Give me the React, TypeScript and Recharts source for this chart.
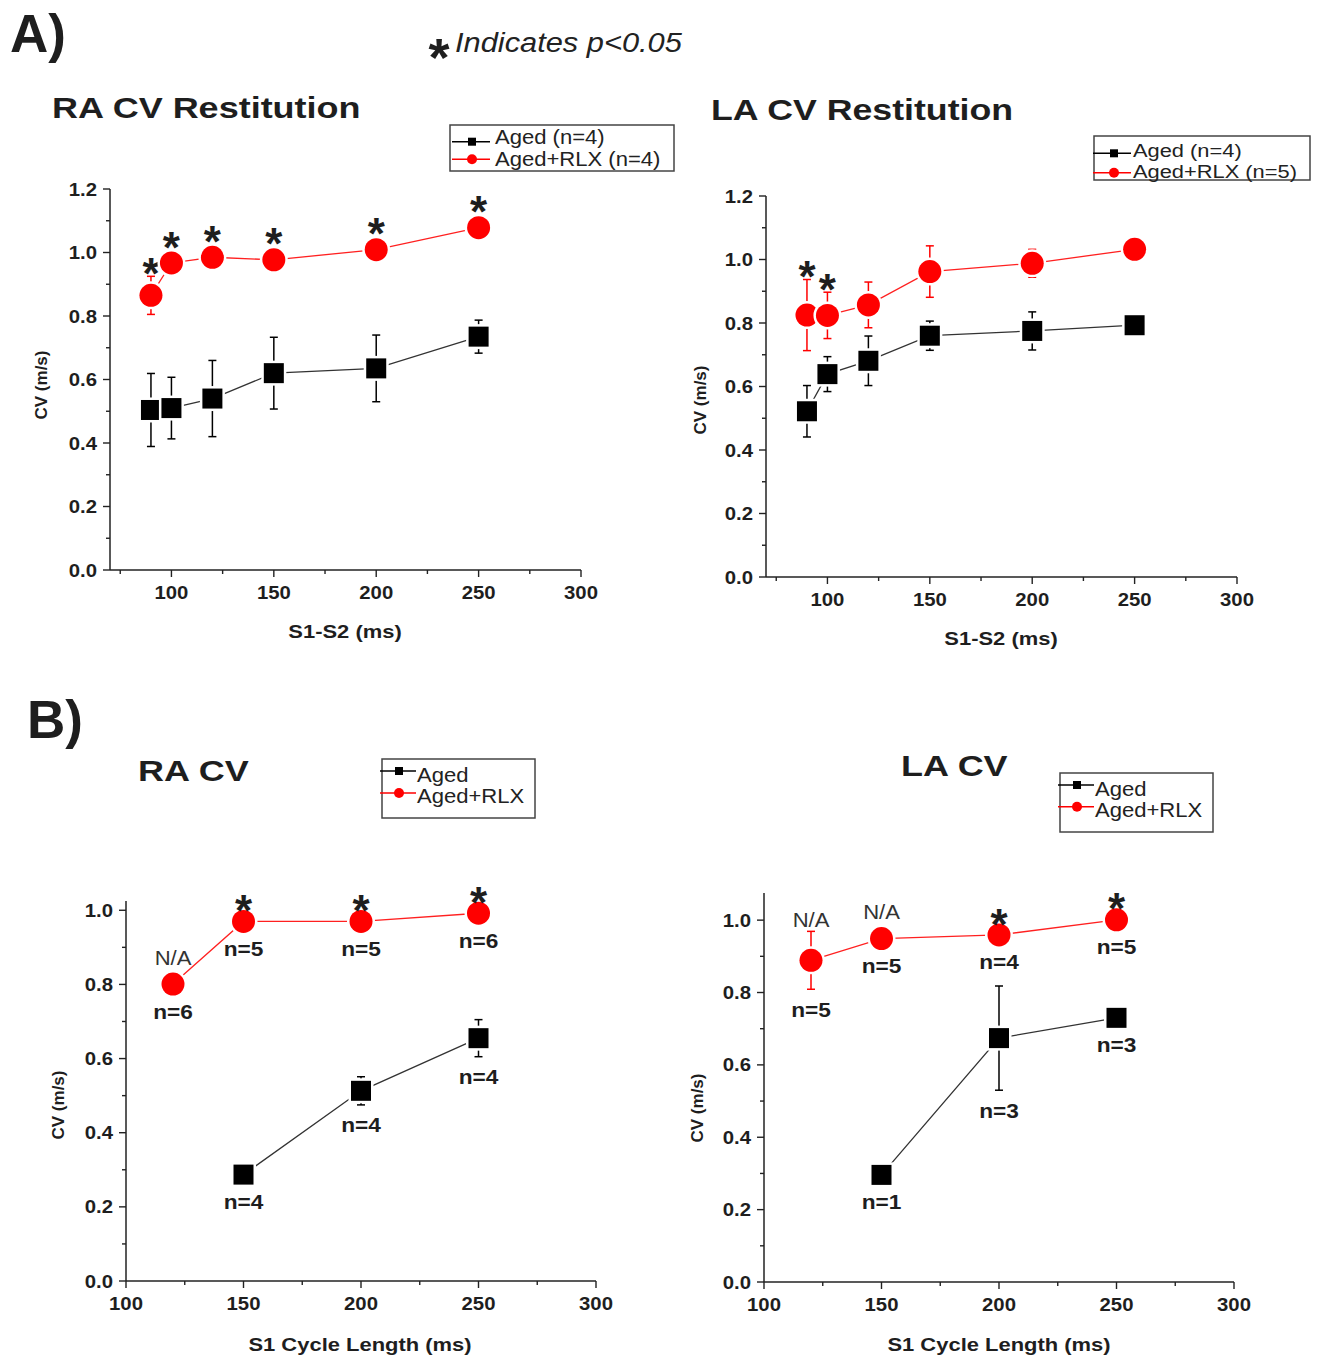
import React from 'react';
import { LineChart, Line, XAxis, YAxis, ErrorBar } from 'recharts';

const FONT = '"Liberation Sans", Arial, Helvetica, sans-serif';

// ---------- A) CV restitution (S1-S2 interval, ms) ----------
const raRestS1S2 = [90, 100, 120, 150, 200, 250];
const raRestAgedCV = [0.504, 0.51, 0.54, 0.62, 0.635, 0.735];
const raRestAgedSEM = [0.115, 0.097, 0.12, 0.113, 0.105, 0.052];
const raRestRlxCV = [0.865, 0.967, 0.985, 0.977, 1.009, 1.078];
const raRestRlxSEM = [0.06, 0.012, 0.012, 0.012, 0.012, 0.012];
const raRestSig = [true, true, true, true, true, true];

const laRestS1S2 = [90, 100, 120, 150, 200, 250];
const laRestAgedCV = [0.522, 0.639, 0.681, 0.76, 0.775, 0.793];
const laRestAgedSEM = [0.081, 0.055, 0.078, 0.046, 0.06, 0.03];
const laRestRlxCV = [0.825, 0.824, 0.857, 0.962, 0.988, 1.032];
const laRestRlxSEM = [0.112, 0.073, 0.072, 0.081, 0.044, 0.012];
const laRestSig = [true, true, false, false, false, false];

// ---------- B) CV vs S1 cycle length (ms) ----------
const raAgedS1 = [150, 200, 250];
const raAgedCV = [0.287, 0.513, 0.655];
const raAgedSEM = [0.012, 0.038, 0.05];
const raAgedN = [4, 4, 4];
const raRlxS1 = [120, 150, 200, 250];
const raRlxCV = [0.801, 0.97, 0.97, 0.992];
const raRlxSEM = [0.012, 0.012, 0.012, 0.012];
const raRlxN = [6, 5, 5, 6];
const raRlxNA = [true, false, false, false];
const raRlxSig = [false, true, true, true];

const laAgedS1 = [150, 200, 250];
const laAgedCV = [0.296, 0.674, 0.73];
const laAgedSEM = [0, 0.144, 0.015];
const laAgedN = [1, 3, 3];
const laRlxS1 = [120, 150, 200, 250];
const laRlxCV = [0.889, 0.949, 0.959, 1.001];
const laRlxSEM = [0.08, 0.012, 0.012, 0.012];
const laRlxN = [5, 5, 4, 5];
const laRlxNA = [true, true, false, false];
const laRlxSig = [false, false, true, true];

// ---------- ticks ----------
const restXTicks = [75, 100, 125, 150, 175, 200, 225, 250, 275, 300];
const cycleXTicks = [100, 125, 150, 175, 200, 225, 250, 275, 300];
const restYTicks = [0, 0.1, 0.2, 0.3, 0.4, 0.5, 0.6, 0.7, 0.8, 0.9, 1.0, 1.1, 1.2];
const cycleYTicks = [0, 0.1, 0.2, 0.3, 0.4, 0.5, 0.6, 0.7, 0.8, 0.9, 1.0];

const RED = '#ff0000';
const BLACK = '#000000';
const INK = '#1e1e1e';

type Row = { x: number; cv: number; sem: number; n?: number; sig?: boolean; na?: boolean };

function rows(xs: number[], ys: number[], es: number[], ns?: number[], sig?: boolean[], na?: boolean[]): Row[] {
  return xs.map((x, i) => ({ x, cv: ys[i], sem: es[i], n: ns ? ns[i] : undefined, sig: sig ? sig[i] : false, na: na ? na[i] : false }));
}

function ST(props: any) {
  const { x, y, fs, sx = 1, anchor = 'start', weight = 'bold', italic = false, fill = INK, children } = props;
  return (
    <text
      transform={`translate(${x} ${y}) scale(${sx} 1)`}
      fontSize={fs}
      fontWeight={weight}
      fontStyle={italic ? 'italic' : 'normal'}
      textAnchor={anchor}
      fill={fill}
      fontFamily={FONT}
    >
      {children}
    </text>
  );
}

function Star({ x, cy, fs = 44 }: any) {
  return <ST x={x} y={cy + fs * 0.56} fs={fs} anchor="middle">*</ST>;
}

function XTick(props: any) {
  const { x, y, payload } = props;
  const v = payload.value;
  const major = Math.abs(v % 50) < 1e-6;
  return (
    <g>
      <line x1={x} x2={x} y1={y} y2={y + (major ? 7 : 4)} stroke="#222" strokeWidth={1.4} />
      {major && (
        <ST x={x} y={y + 29} fs={18} sx={1.13} anchor="middle">
          {String(v)}
        </ST>
      )}
    </g>
  );
}

function YTick(props: any) {
  const { x, y, payload } = props;
  const v = payload.value;
  const major = Math.round(v * 10) % 2 === 0;
  return (
    <g>
      <line x1={x - (major ? 7 : 4)} x2={x} y1={y} y2={y} stroke="#222" strokeWidth={1.4} />
      {major && (
        <ST x={x - 13} y={y + 6.5} fs={18} sx={1.13} anchor="end">
          {v.toFixed(1)}
        </ST>
      )}
    </g>
  );
}

function Marker(props: any) {
  const { cx, cy, payload, kind, ppu, mode } = props;
  if (cx == null || cy == null) return <g />;
  const errPx = (payload.sem || 0) * ppu;
  const shape =
    kind === 'square' ? (
      <rect x={cx - 10} y={cy - 10} width={20} height={20} fill={BLACK} stroke="#fff" strokeWidth={5} paintOrder="stroke" />
    ) : (
      <circle cx={cx} cy={cy} r={11.5} fill={RED} stroke="#fff" strokeWidth={5} paintOrder="stroke" />
    );
  const starY = mode === 'A' ? Math.min(cy - 25, cy - errPx - 12) : cy - 20;
  const naY = Math.min(cy - 27, cy - errPx - 12);
  const nY = Math.max(cy + 27, cy + errPx + 20);
  return (
    <g>
      {shape}
      {payload.sig && <Star x={cx} cy={starY} />}
      {payload.na && (
        <ST x={cx} y={naY + 7.5} fs={21} sx={1.05} weight="normal" anchor="middle" fill="#333">
          N/A
        </ST>
      )}
      {payload.n != null && (
        <ST x={cx} y={nY + 7.5} fs={21} sx={1.08} anchor="middle">
          {`n=${payload.n}`}
        </ST>
      )}
    </g>
  );
}

type Series = { name: string; data: Row[]; color: string; line: string; kind: 'square' | 'circle' };

function Panel(p: {
  left: number; top: number; w: number; h: number;
  xDomain: [number, number]; yDomain: [number, number];
  xTicks: number[]; yTicks: number[]; series: Series[]; mode: 'A' | 'B';
}) {
  const ML = 80, MT = 50, MR = 30, MB = 60;
  const ppu = p.h / p.yDomain[1];
  return (
    <div style={{ position: 'absolute', left: p.left - ML, top: p.top - MT }}>
      <LineChart width={p.w + ML + MR} height={p.h + MT + MB} margin={{ top: MT, right: MR, bottom: MB - 40, left: ML - 60 }}>
        <XAxis
          type="number"
          dataKey="x"
          domain={p.xDomain}
          ticks={p.xTicks}
          interval={0}
          tickSize={0}
          tickMargin={0}
          tickLine={false}
          axisLine={{ stroke: '#222', strokeWidth: 1.5 }}
          tick={(t: any) => <XTick {...t} />}
          height={40}
        />
        <YAxis
          type="number"
          domain={p.yDomain}
          ticks={p.yTicks}
          interval={0}
          tickSize={0}
          tickMargin={0}
          tickLine={false}
          axisLine={{ stroke: '#222', strokeWidth: 1.5 }}
          tick={(t: any) => <YTick {...t} />}
          width={60}
        />
        {p.series.map((s) => (
          <Line
            key={s.name}
            name={s.name}
            data={s.data}
            dataKey="cv"
            type="linear"
            stroke={s.line}
            strokeWidth={1.3}
            isAnimationActive={false}
            activeDot={false}
            dot={(d: any) => <Marker key={`${s.name}-${d.index}`} {...d} kind={s.kind} ppu={ppu} mode={p.mode} />}
          >
            <ErrorBar dataKey="sem" width={4} stroke={s.color} strokeWidth={1.5} direction="y" />
          </Line>
        ))}
      </LineChart>
    </div>
  );
}

function LegendBox(p: {
  x: number; y: number; w: number; h: number; lx1: number; lx2: number; mx: number; tx: number; fs?: number; sx?: number;
  rows: { label: string; kind: 'square' | 'circle'; ly: number; ty: number }[];
}) {
  const fs = p.fs ?? 21;
  const sx = p.sx ?? 1.05;
  return (
    <g>
      <rect x={p.x} y={p.y} width={p.w} height={p.h} fill="none" stroke="#444" strokeWidth={1.5} />
      {p.rows.map((r, i) => (
        <g key={i}>
          <line x1={p.lx1} x2={p.lx2} y1={r.ly} y2={r.ly} stroke={r.kind === 'square' ? BLACK : RED} strokeWidth={1.6} />
          {r.kind === 'square' ? (
            <rect x={p.mx - 4} y={r.ly - 4} width={8} height={8} fill={BLACK} />
          ) : (
            <circle cx={p.mx} cy={r.ly} r={5} fill={RED} />
          )}
          <ST x={p.tx} y={r.ty} fs={fs} sx={sx} weight="normal" fill="#222">
            {r.label}
          </ST>
        </g>
      ))}
    </g>
  );
}

function YTitle({ x, y }: { x: number; y: number }) {
  return (
    <text transform={`translate(${x} ${y}) rotate(-90)`} y={6} fontSize={17} fontWeight="bold" textAnchor="middle" fill={INK} fontFamily={FONT}>
      CV (m/s)
    </text>
  );
}

export default function App() {
  const raRestAged: Series = { name: 'Aged', data: rows(raRestS1S2, raRestAgedCV, raRestAgedSEM), color: BLACK, line: '#333', kind: 'square' };
  const raRestRlx: Series = { name: 'Aged+RLX', data: rows(raRestS1S2, raRestRlxCV, raRestRlxSEM, undefined, raRestSig), color: RED, line: '#ff2020', kind: 'circle' };
  const laRestAged: Series = { name: 'Aged', data: rows(laRestS1S2, laRestAgedCV, laRestAgedSEM), color: BLACK, line: '#333', kind: 'square' };
  const laRestRlx: Series = { name: 'Aged+RLX', data: rows(laRestS1S2, laRestRlxCV, laRestRlxSEM, undefined, laRestSig), color: RED, line: '#ff2020', kind: 'circle' };
  const raAged: Series = { name: 'Aged', data: rows(raAgedS1, raAgedCV, raAgedSEM, raAgedN), color: BLACK, line: '#333', kind: 'square' };
  const raRlx: Series = { name: 'Aged+RLX', data: rows(raRlxS1, raRlxCV, raRlxSEM, raRlxN, raRlxSig, raRlxNA), color: RED, line: '#ff2020', kind: 'circle' };
  const laAged: Series = { name: 'Aged', data: rows(laAgedS1, laAgedCV, laAgedSEM, laAgedN), color: BLACK, line: '#333', kind: 'square' };
  const laRlx: Series = { name: 'Aged+RLX', data: rows(laRlxS1, laRlxCV, laRlxSEM, laRlxN, laRlxSig, laRlxNA), color: RED, line: '#ff2020', kind: 'circle' };

  return (
    <div style={{ position: 'absolute', left: 0, top: 0, width: 1324, height: 1357, background: '#fff', overflow: 'hidden', fontFamily: FONT }}>
      <Panel left={110} top={189} w={471} h={381} xDomain={[70, 300]} yDomain={[0, 1.2]} xTicks={restXTicks} yTicks={restYTicks} series={[raRestAged, raRestRlx]} mode="A" />
      <Panel left={766} top={196} w={471} h={381} xDomain={[70, 300]} yDomain={[0, 1.2]} xTicks={restXTicks} yTicks={restYTicks} series={[laRestAged, laRestRlx]} mode="A" />
      <Panel left={126} top={901} w={470} h={380} xDomain={[100, 300]} yDomain={[0, 1.025]} xTicks={cycleXTicks} yTicks={cycleYTicks} series={[raAged, raRlx]} mode="B" />
      <Panel left={764} top={893} w={470} h={389} xDomain={[100, 300]} yDomain={[0, 1.075]} xTicks={cycleXTicks} yTicks={cycleYTicks} series={[laAged, laRlx]} mode="B" />

      <svg width={1324} height={1357} style={{ position: 'absolute', left: 0, top: 0, pointerEvents: 'none' }}>
        <ST x={10} y={52} fs={53}>A)</ST>
        <Star x={439} cy={46} fs={54} />
        <ST x={455} y={52} fs={28} sx={1.1} weight="normal" italic fill="#222">Indicates p&lt;0.05</ST>
        <ST x={52} y={118} fs={30} sx={1.2}>RA CV Restitution</ST>
        <ST x={711} y={120} fs={30} sx={1.19}>LA CV Restitution</ST>
        <ST x={27} y={738} fs={53}>B)</ST>
        <ST x={138} y={781} fs={30} sx={1.2}>RA CV</ST>
        <ST x={901} y={776} fs={30} sx={1.2}>LA CV</ST>

        <LegendBox x={450} y={125} w={224} h={46} lx1={452} lx2={490} mx={472} tx={495}
          rows={[{ label: 'Aged (n=4)', kind: 'square', ly: 141.7, ty: 143.5 }, { label: 'Aged+RLX (n=4)', kind: 'circle', ly: 159.3, ty: 166 }]} />
        <LegendBox x={1094} y={136} w={216} h={44} lx1={1093} lx2={1131} mx={1114} tx={1133} fs={19} sx={1.15}
          rows={[{ label: 'Aged (n=4)', kind: 'square', ly: 153.3, ty: 157 }, { label: 'Aged+RLX (n=5)', kind: 'circle', ly: 172.7, ty: 177.5 }]} />
        <LegendBox x={382} y={759} w={153} h={59} lx1={380} lx2={416} mx={399} tx={417}
          rows={[{ label: 'Aged', kind: 'square', ly: 771, ty: 782 }, { label: 'Aged+RLX', kind: 'circle', ly: 793, ty: 803 }]} />
        <LegendBox x={1060} y={773} w={153} h={59} lx1={1058} lx2={1094} mx={1077} tx={1095}
          rows={[{ label: 'Aged', kind: 'square', ly: 785, ty: 796 }, { label: 'Aged+RLX', kind: 'circle', ly: 806.7, ty: 817 }]} />

        <YTitle x={41} y={385} />
        <YTitle x={700} y={400} />
        <YTitle x={58} y={1105} />
        <YTitle x={697} y={1108} />
        <ST x={345} y={638} fs={18} sx={1.22} anchor="middle">S1-S2 (ms)</ST>
        <ST x={1001} y={645} fs={18} sx={1.22} anchor="middle">S1-S2 (ms)</ST>
        <ST x={360} y={1351} fs={18} sx={1.22} anchor="middle">S1 Cycle Length (ms)</ST>
        <ST x={999} y={1351} fs={18} sx={1.22} anchor="middle">S1 Cycle Length (ms)</ST>
      </svg>
    </div>
  );
}
